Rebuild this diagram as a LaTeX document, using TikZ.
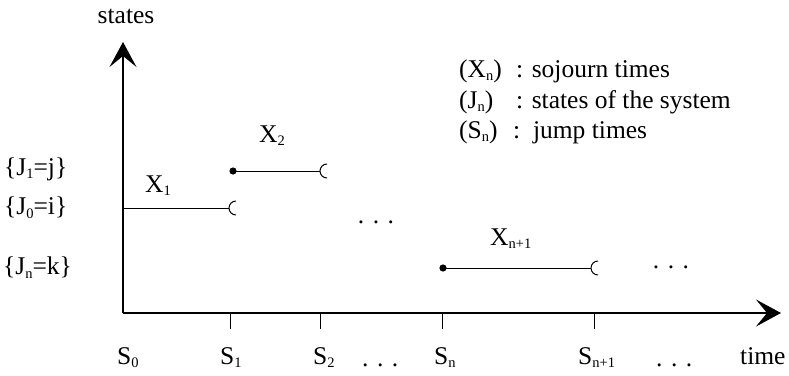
\documentclass[tikz,border=0pt]{standalone}
\usepackage{fontspec}
\setmainfont{Liberation Serif}
\usetikzlibrary{arrows.meta}
\newcommand\lsub[1]{\raisebox{-3.8pt}{\fontsize{14.5}{15}\selectfont #1}}
\newcommand\openend[1]{\draw[seg] ([xshift=7pt,yshift=7pt]#1) arc[start angle=90,end angle=270,radius=7pt];}
\tikzset{
  txt/.style={inner sep=0pt, font=\fontsize{25.5}{28}\selectfont},
  axis/.style={line width=1.4pt, -{Stealth[length=25pt,width=27pt,inset=11pt]}},
  seg/.style={line width=1pt},
  tickline/.style={line width=1pt},
  jdot/.style={fill=black}
}
\begin{document}
\begin{tikzpicture}[x=1pt,y=-1pt]
\useasboundingbox (0,0) rectangle (789,375);
% axes
\coordinate (O) at (123,313);
\coordinate (ytip) at (123,42);
\coordinate (xtip) at (781,313);
\draw[axis] (O) -- (ytip);
\draw[axis] (O) -- (xtip);
% ticks
\foreach \n/\x in {t1/230,t2/320,tn/442,tm/594}{
  \coordinate (\n a) at (\x,313);
  \coordinate (\n b) at (\x,329);
  \draw[tickline] (\n a) -- (\n b);
}
% segments
\coordinate (is) at (123,208); \coordinate (ie) at (229,208);
\coordinate (js) at (233,171); \coordinate (je) at (320,171);
\coordinate (ks) at (443,268); \coordinate (ke) at (591,268);
\draw[seg] (is) -- (ie); \openend{ie}
\draw[seg] (js) -- (je); \openend{je}
\draw[seg] (ks) -- (ke); \openend{ke}
\fill[jdot] (js) circle (3.6pt);
\fill[jdot] (ks) circle (3.6pt);
% labels
\node[txt,anchor=base] (states) at (126,23) {states};
\node[txt,anchor=base west] (x1) at (145,192) {X\lsub{1}};
\node[txt,anchor=base west] (x2) at (259,142) {X\lsub{2}};
\node[txt,anchor=base west] (xn1) at (490,245) {X\lsub{n+1}};
\node[txt,anchor=base] (dm) at (376,223) {. . .};
\node[txt,anchor=base] (dr) at (671,268) {. . .};
\node[txt,anchor=west] (j1) at (4,169) {\{J\lsub{1}=j\}};
\node[txt,anchor=west] (j0) at (4,208) {\{J\lsub{0}=i\}};
\node[txt,anchor=west] (jn) at (3,268) {\{J\lsub{n}=k\}};
% bottom labels
\node[txt,anchor=base west] (s0) at (117,364) {S\lsub{0}};
\node[txt,anchor=base west] (s1) at (220,364) {S\lsub{1}};
\node[txt,anchor=base west] (s2) at (313,364) {S\lsub{2}};
\node[txt,anchor=base west] (db1) at (362,366) {. . .};
\node[txt,anchor=base west] (sn) at (434,364) {S\lsub{n}};
\node[txt,anchor=base west] (sn1) at (578,364) {S\lsub{n+1}};
\node[txt,anchor=base west] (db2) at (656,366) {. . .};
\node[txt,anchor=base west] (time) at (740,364) {time};
% legend
\node[txt,anchor=base west] (lx) at (459,77) {(X\lsub{n})};
\node[txt,anchor=base west] (lxt) at (516,77) {: sojourn times};
\node[txt,anchor=base west] (lj) at (459,108) {(J\lsub{n})};
\node[txt,anchor=base west] (ljt) at (516,108) {: states of the system};
\node[txt,anchor=base west] (ls) at (459,138) {(S\lsub{n})};
\node[txt,anchor=base west] (lst) at (513,138) {:\ \ jump times};
\end{tikzpicture}
\end{document}
